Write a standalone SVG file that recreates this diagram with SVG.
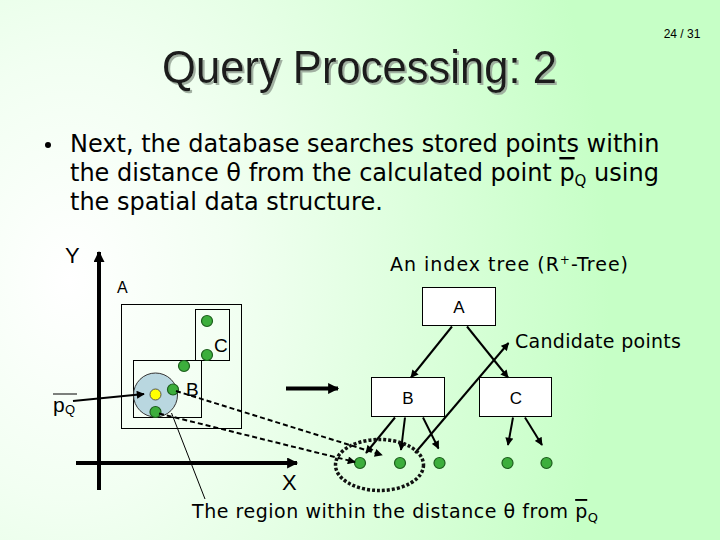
<svg xmlns="http://www.w3.org/2000/svg" width="720" height="540" viewBox="0 0 720 540">
<defs>
  <radialGradient id="bg" gradientUnits="userSpaceOnUse" cx="70" cy="280" r="540" gradientTransform="translate(70 280) scale(1 1.35) translate(-70 -280)">
    <stop offset="0" stop-color="#ffffff"/>
    <stop offset="0.3" stop-color="#f2fff2"/>
    <stop offset="1" stop-color="#c6ffc6"/>
  </radialGradient>
  <filter id="shadow" x="-5%" y="-20%" width="110%" height="140%">
    <feDropShadow dx="2" dy="2" stdDeviation="0.6" flood-color="#9aa89a" flood-opacity="0.9"/>
  </filter>
  <marker id="ah" viewBox="0 0 10 10" refX="9" refY="5" markerWidth="9" markerHeight="8" markerUnits="userSpaceOnUse" orient="auto">
    <path d="M0,0 L10,5 L0,10 z" fill="#000"/>
  </marker>
  <marker id="ahBig" viewBox="0 0 10 10" refX="9" refY="5" markerWidth="12" markerHeight="11" markerUnits="userSpaceOnUse" orient="auto">
    <path d="M0,0 L10,5 L0,10 z" fill="#000"/>
  </marker>
  <style>
    .title { font-family: "Liberation Sans", Arial, sans-serif; font-size: 46px; fill: #1a1a1a; }
    .body { font-family: "DejaVu Sans", Verdana, sans-serif; font-size: 24px; fill: #000; }
    .lbl { font-family: "DejaVu Sans", Verdana, sans-serif; font-size: 19px; fill: #000; }
    .ar { font-family: "Liberation Sans", Arial, sans-serif; fill: #000; }
    .box { fill: none; stroke: #000; stroke-width: 1; }
    .tbox { fill: #ffffff; stroke: #000; stroke-width: 1; }
    .pt { fill: #3cae3c; stroke: #1d5e1d; stroke-width: 1.2; }
    .edge { stroke: #000; stroke-width: 2; fill: none; marker-end: url(#ah); }
    .dash { stroke: #000; stroke-width: 2; fill: none; stroke-dasharray: 5 3; marker-end: url(#ah); }
    .axis { stroke: #000; stroke-width: 4; fill: none; marker-end: url(#ahBig); }
  </style>
</defs>
<rect x="0" y="0" width="720" height="540" fill="url(#bg)"/>

<g id="header">
  <text x="682" y="38" class="ar" font-size="12" text-anchor="middle">24 / 31</text>
  <text x="162" y="83" class="title" filter="url(#shadow)" textLength="395" lengthAdjust="spacingAndGlyphs">Query Processing: 2</text>
</g>

<g id="bullet">
  <circle cx="48" cy="145" r="3" fill="#000"/>
  <text x="70" y="152" class="body">Next, the database searches stored points within</text>
  <text x="70" y="181" class="body">the distance θ from the calculated point <tspan text-decoration="overline">p</tspan><tspan font-size="15" dy="5">Q</tspan><tspan dy="-5"> using</tspan></text>
  <text x="70" y="210" class="body">the spatial data structure.</text>
</g>

<g id="space">
  <g id="axes">
    <line x1="99" y1="490" x2="99" y2="252" class="axis"/>
    <line x1="76" y1="463" x2="297" y2="463" class="axis"/>
    <text x="65" y="263" class="ar" font-size="22">Y</text>
    <text x="282" y="490" class="ar" font-size="22">X</text>
  </g>
  <g id="rectA">
    <rect x="121.5" y="304.5" width="120" height="124" class="box"/>
    <text x="117" y="293" class="ar" font-size="16">A</text>
  </g>
  <g id="rectC">
    <rect x="195.5" y="309.5" width="34" height="51" class="box"/>
    <text x="214" y="352" class="ar" font-size="19">C</text>
  </g>
  <g id="rectB">
    <rect x="133.5" y="360.5" width="68" height="57" class="box"/>
  </g>
  <g id="region">
    <circle cx="155.5" cy="395" r="22" fill="#b9d7e0" stroke="#333" stroke-width="1"/>
  </g>
  <text x="186" y="396" class="ar" font-size="19">B</text>
  <g id="points">
    <circle cx="207" cy="321" r="5.5" class="pt"/>
    <circle cx="207" cy="355" r="5.5" class="pt"/>
    <circle cx="184" cy="366" r="5.5" class="pt"/>
    <circle cx="173" cy="389.5" r="5.5" class="pt"/>
    <circle cx="155.5" cy="412" r="5.5" class="pt"/>
    <circle cx="155.5" cy="394.5" r="5.5" fill="#ffff00" stroke="#555" stroke-width="1"/>
  </g>
  <g id="pQ">
    <text x="53" y="412" class="ar" font-size="21">p</text>
    <text x="65" y="414" class="ar" font-size="13">Q</text>
    <line x1="53" y1="394" x2="77" y2="394" stroke="#000" stroke-width="1"/>
  </g>
</g>

<g id="labels">
  <text x="390" y="271" class="lbl" textLength="238">An index tree (R<tspan font-size="12" dy="-7">+</tspan><tspan dy="7">-Tree)</tspan></text>
  <text x="515" y="348" class="lbl" textLength="166">Candidate points</text>
  <text x="192" y="518" class="lbl" textLength="406">The region within the distance θ from <tspan text-decoration="overline">p</tspan><tspan font-size="13" dy="4">Q</tspan></text>
</g>

<g id="nodeA">
  <rect x="422.5" y="287.5" width="73" height="38" class="tbox"/>
  <text x="459" y="313" class="ar" font-size="17" text-anchor="middle">A</text>
</g>
<g id="nodeB">
  <rect x="371.5" y="377.5" width="73" height="39" class="tbox"/>
  <text x="408" y="404" class="ar" font-size="17" text-anchor="middle">B</text>
</g>
<g id="nodeC">
  <rect x="479.5" y="377.5" width="72" height="39" class="tbox"/>
  <text x="516" y="404" class="ar" font-size="17" text-anchor="middle">C</text>
</g>

<g id="leaves">
  <circle cx="360" cy="463" r="5.5" class="pt"/>
  <circle cx="400" cy="463" r="5.5" class="pt"/>
  <circle cx="439.5" cy="463" r="5.5" class="pt"/>
  <circle cx="507.5" cy="463" r="5.5" class="pt"/>
  <circle cx="546.5" cy="463" r="5.5" class="pt"/>
</g>

<g id="connectors">
  <line x1="73" y1="401" x2="144" y2="394" class="edge" stroke-width="2.5"/>
  <line x1="286" y1="388.5" x2="338" y2="388.5" class="axis"/>
  <line x1="452" y1="326.5" x2="411" y2="377.5" class="edge"/>
  <line x1="467" y1="326.5" x2="508" y2="377.5" class="edge"/>
  <line x1="395" y1="417.5" x2="366" y2="453" class="edge"/>
  <line x1="405" y1="417.5" x2="401" y2="450" class="edge"/>
  <line x1="423" y1="417.5" x2="438.5" y2="448.5" class="edge"/>
  <line x1="513" y1="417.5" x2="508" y2="445" class="edge"/>
  <line x1="525" y1="417.5" x2="542" y2="445" class="edge"/>
  <line x1="415" y1="453" x2="508.5" y2="343" class="edge"/>
  <line x1="176" y1="391" x2="382" y2="455" class="dash"/>
  <line x1="159" y1="413.5" x2="355" y2="462" class="dash"/>
  <line x1="171.5" y1="413" x2="205" y2="499" stroke="#000" stroke-width="1"/>
  <ellipse cx="379.5" cy="465" rx="44" ry="25.5" fill="none" stroke="#111" stroke-width="3.5" stroke-dasharray="3 2"/>
</g>
</svg>
